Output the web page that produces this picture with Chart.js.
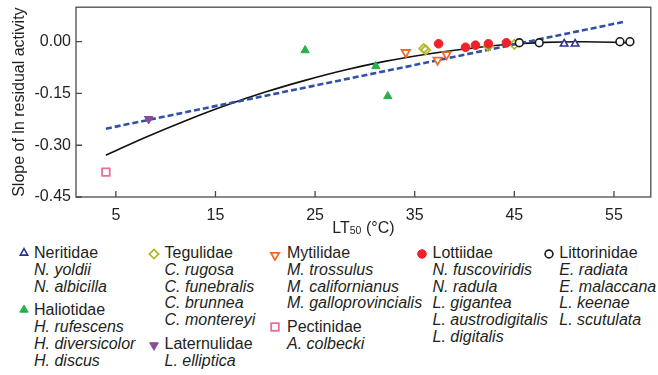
<!DOCTYPE html>
<html>
<head>
<meta charset="utf-8">
<script src="https://cdn.jsdelivr.net/npm/chart.js@4/dist/chart.umd.min.js"></script>
<style>
  body { margin: 0; background: #fff; }
  #wrap { position: relative; width: 658px; height: 375px; overflow: hidden; }
  #chart { position: absolute; left: 0; top: 0; }
  .leg { position: absolute; font: 16px "Liberation Sans", Arial, sans-serif; color: #231f20; line-height: 16.7px; white-space: nowrap; }
  .leg i { display: block; }
  .mk { position: absolute; }
</style>
</head>
<body>
<div id="wrap">
  <canvas id="chart" width="658" height="240"></canvas>
</div>
<script>
// axis ticks
const xTicks = [5, 15, 25, 35, 45, 55];
const yTicks = [-0.45, -0.30, -0.15, 0.00];

// families and species (legend)
const families = ['Neritidae', 'Haliotidae', 'Tegulidae', 'Laternulidae', 'Mytilidae', 'Pectinidae', 'Lottiidae', 'Littorinidae'];
const neritidaeSpecies = ['N. yoldii', 'N. albicilla'];
const haliotidaeSpecies = ['H. rufescens', 'H. diversicolor', 'H. discus'];
const tegulidaeSpecies = ['C. rugosa', 'C. funebralis', 'C. brunnea', 'C. montereyi'];
const laternulidaeSpecies = ['L. elliptica'];
const mytilidaeSpecies = ['M. trossulus', 'M. californianus', 'M. galloprovincialis'];
const pectinidaeSpecies = ['A. colbecki'];
const lottiidaeSpecies = ['N. fuscoviridis', 'N. radula', 'L. gigantea', 'L. austrodigitalis', 'L. digitalis'];
const littorinidaeSpecies = ['E. radiata', 'E. malaccana', 'L. keenae', 'L. scutulata'];

// LT50 (x) and slope (y) per family
const neritidaeX = [50.0, 51.1];
const neritidaeY = [-0.006, -0.006];
const haliotidaeX = [24.0, 31.1, 32.3];
const haliotidaeY = [-0.025, -0.071, -0.158];
const tegulidaeX = [35.9, 36.1, 42.4, 45.0];
const tegulidaeY = [-0.020, -0.024, -0.013, -0.008];
const laternulidaeX = [8.3];
const laternulidaeY = [-0.224];
const mytilidaeX = [34.1, 37.3, 38.2];
const mytilidaeY = [-0.031, -0.053, -0.037];
const pectinidaeX = [4.0];
const pectinidaeY = [-0.378];
const lottiidaeX = [37.4, 40.1, 41.1, 42.4, 44.2];
const lottiidaeY = [-0.006, -0.016, -0.010, -0.006, -0.003];
const littorinidaeX = [45.5, 47.5, 55.6, 56.6];
const littorinidaeY = [-0.003, -0.003, 0.000, 0.000];

// fitted curves
const quadX = [4, 8, 12, 16, 20, 24, 28, 32, 36, 40, 44, 48, 52, 56.6];
const quadY = [-0.329, -0.277, -0.229, -0.185, -0.146, -0.112, -0.082, -0.057, -0.037, -0.021, -0.009, -0.002, 0.000, -0.003];
const linX = [4.0, 55.9];
const linY = [-0.252, 0.057];

const pts = (xs, ys) => xs.map((x, i) => ({x: x, y: ys[i]}));
const txt = '#231f20';
const fontFam = '"Liberation Sans", Arial, sans-serif';

const datasets = [
  {label: 'Littorinidae', data: pts(littorinidaeX, littorinidaeY), order: 1,
   pointStyle: 'circle', pointRadius: 3.9, backgroundColor: '#fff', borderColor: '#1a1a1a', borderWidth: 1.6},
  {label: 'Lottiidae', data: pts(lottiidaeX, lottiidaeY), order: 2,
   pointStyle: 'circle', pointRadius: 4.3, backgroundColor: '#ee2329', borderColor: '#ee2329', borderWidth: 1},
  {label: 'Neritidae', data: pts(neritidaeX, neritidaeY), order: 3,
   pointStyle: 'triangle', pointRadius: 4.3, backgroundColor: '#fff', borderColor: '#2e3192', borderWidth: 1.6},
  {label: 'Mytilidae', data: pts(mytilidaeX, mytilidaeY), order: 4,
   pointStyle: 'triangle', rotation: 180, pointRadius: 4.8, backgroundColor: '#fff', borderColor: '#f26b2a', borderWidth: 1.8},
  {label: 'Haliotidae', data: pts(haliotidaeX, haliotidaeY), order: 5,
   pointStyle: 'triangle', pointRadius: 4.8, backgroundColor: '#27b04b', borderColor: '#27b04b', borderWidth: 1},
  {label: 'Tegulidae', data: pts(tegulidaeX, tegulidaeY), order: 6,
   pointStyle: 'rectRot', pointRadius: 4.6, backgroundColor: 'rgba(255,255,255,0)', borderColor: '#b8b82e', borderWidth: 1.8},
  {label: 'Laternulidae', data: pts(laternulidaeX, laternulidaeY), order: 7,
   pointStyle: 'triangle', rotation: 180, pointRadius: 5, backgroundColor: '#8a4a9c', borderColor: '#8a4a9c', borderWidth: 1},
  {label: 'Pectinidae', data: pts(pectinidaeX, pectinidaeY), order: 8,
   pointStyle: 'rect', pointRadius: 5.4, backgroundColor: '#fff', borderColor: '#e86e9a', borderWidth: 1.8},
  {label: 'linear', data: pts(linX, linY), order: 10, showLine: true, pointRadius: 0,
   borderColor: '#3052a6', borderWidth: 2.6, borderDash: [6, 3], fill: false},
  {label: 'quadratic', data: pts(quadX, quadY), order: 11, showLine: true, pointRadius: 0,
   borderColor: '#111', borderWidth: 1.6, tension: 0.4, fill: false}
];

const framePlugin = {
  id: 'frame',
  afterDraw(chart) {
    const {ctx, chartArea: a, scales: {x, y}} = chart;
    ctx.save();
    ctx.strokeStyle = '#4a4a4a';
    ctx.lineWidth = 1.3;
    ctx.strokeRect(a.left, a.top, a.right - a.left, a.bottom - a.top);
    ctx.beginPath();
    xTicks.forEach(v => {
      const px = x.getPixelForValue(v);
      ctx.moveTo(px, a.bottom);
      ctx.lineTo(px, a.bottom - 6);
    });
    yTicks.forEach(v => {
      const py = y.getPixelForValue(v);
      ctx.moveTo(a.left, py);
      ctx.lineTo(a.left + 6, py);
    });
    ctx.stroke();

    // x title: LT50 (°C) with subscript
    ctx.fillStyle = txt;
    ctx.textBaseline = 'alphabetic';
    ctx.textAlign = 'left';
    const big = '16px ' + fontFam, small = '10.5px ' + fontFam;
    ctx.font = big;
    const w1 = ctx.measureText('LT').width, w3 = ctx.measureText(' (°C)').width;
    ctx.font = small;
    const w2 = ctx.measureText('50').width;
    let tx = (a.left + a.right) / 2 - (w1 + w2 + w3) / 2;
    const base = 232.5;
    ctx.font = big;
    ctx.fillText('LT', tx, base);
    tx += w1;
    ctx.font = small;
    ctx.fillText('50', tx, base + 1.5);
    tx += w2;
    ctx.font = big;
    ctx.fillText(' (°C)', tx, base);
    ctx.restore();
  }
};

const noPad = s => { s.paddingTop = 0; s.paddingBottom = 0; s.paddingLeft = 0; s.paddingRight = 0; };

new Chart(document.getElementById('chart'), {
  type: 'scatter',
  data: {datasets: datasets},
  options: {
    responsive: false,
    animation: false,
    devicePixelRatio: 1,
    layout: {padding: {top: 7, right: 4, left: 0, bottom: 0}},
    plugins: {legend: {display: false}, tooltip: {enabled: false}},
    scales: {
      x: {
        type: 'linear', min: 1, max: 58.7,
        grid: {display: false, drawTicks: false},
        border: {display: false},
        afterBuildTicks: s => { s.ticks = xTicks.map(v => ({value: v})); },
        afterFit: s => { s.height = 43; noPad(s); },
        ticks: {color: txt, padding: 9, font: {size: 16, family: fontFam}, callback: v => String(v)}
      },
      y: {
        min: -0.45, max: 0.1,
        grid: {display: false, drawTicks: false},
        border: {display: false},
        afterBuildTicks: s => { s.ticks = yTicks.map(v => ({value: v})); },
        afterFit: s => { s.width = 76; noPad(s); },
        ticks: {color: txt, padding: 5, font: {size: 16, family: fontFam}, callback: v => v.toFixed(2)},
        title: {display: true, text: 'Slope of ln residual activity', color: txt,
                font: {size: 16, family: fontFam}, padding: {top: 10, bottom: 0}}
      }
    }
  },
  plugins: [framePlugin]
});

// legend
const speciesLists = [neritidaeSpecies, haliotidaeSpecies, tegulidaeSpecies, laternulidaeSpecies,
                      mytilidaeSpecies, pectinidaeSpecies, lottiidaeSpecies, littorinidaeSpecies];
const legendCols = [
  {markerX: 23.5, textX: 34, groups: [0, 1]},
  {markerX: 154, textX: 164.5, groups: [2, 3]},
  {markerX: 275, textX: 287, groups: [4, 5]},
  {markerX: 421.7, textX: 432.5, groups: [6]},
  {markerX: 549.3, textX: 559.3, groups: [7]}
];
const lineH = 16.7, legTop = 245.3, groupGap = 7;

function markerSvg(name) {
  const ds = datasets.find(d => d.label === name);
  const c = 7, r = ds.pointRadius;
  const fill = ds.backgroundColor, stroke = ds.borderColor, sw = ds.borderWidth;
  let shape;
  if (ds.pointStyle === 'circle') {
    shape = `<circle cx="${c}" cy="${c}" r="${r}"/>`;
  } else if (ds.pointStyle === 'rect') {
    const h = r * Math.SQRT1_2;
    shape = `<rect x="${c - h}" y="${c - h}" width="${2 * h}" height="${2 * h}"/>`;
  } else if (ds.pointStyle === 'rectRot') {
    shape = `<polygon points="${c},${c - r} ${c + r},${c} ${c},${c + r} ${c - r},${c}"/>`;
  } else {
    const s = ds.rotation === 180 ? -1 : 1;
    const off = s * r / 4;
    const p = [[0, -r], [0.866 * r, r / 2], [-0.866 * r, r / 2]]
      .map(([px, py]) => `${c + px},${c + s * py - off}`).join(' ');
    shape = `<polygon points="${p}"/>`;
  }
  return `<svg width="14" height="14" fill="${fill}" stroke="${stroke}" stroke-width="${sw}">${shape}</svg>`;
}

const wrap = document.getElementById('wrap');
legendCols.forEach(col => {
  let top = legTop;
  col.groups.forEach(g => {
    const mk = document.createElement('div');
    mk.className = 'mk';
    mk.style.left = (col.markerX - 7) + 'px';
    mk.style.top = (top + 8.2 - 7) + 'px';
    mk.innerHTML = markerSvg(families[g]);
    wrap.appendChild(mk);

    const el = document.createElement('div');
    el.className = 'leg';
    el.style.left = col.textX + 'px';
    el.style.top = top + 'px';
    el.innerHTML = '<span>' + families[g] + '</span>' +
      speciesLists[g].map(s => '<i>' + s + '</i>').join('');
    wrap.appendChild(el);
    top += lineH * (1 + speciesLists[g].length) + groupGap;
  });
});
</script>
</body>
</html>
